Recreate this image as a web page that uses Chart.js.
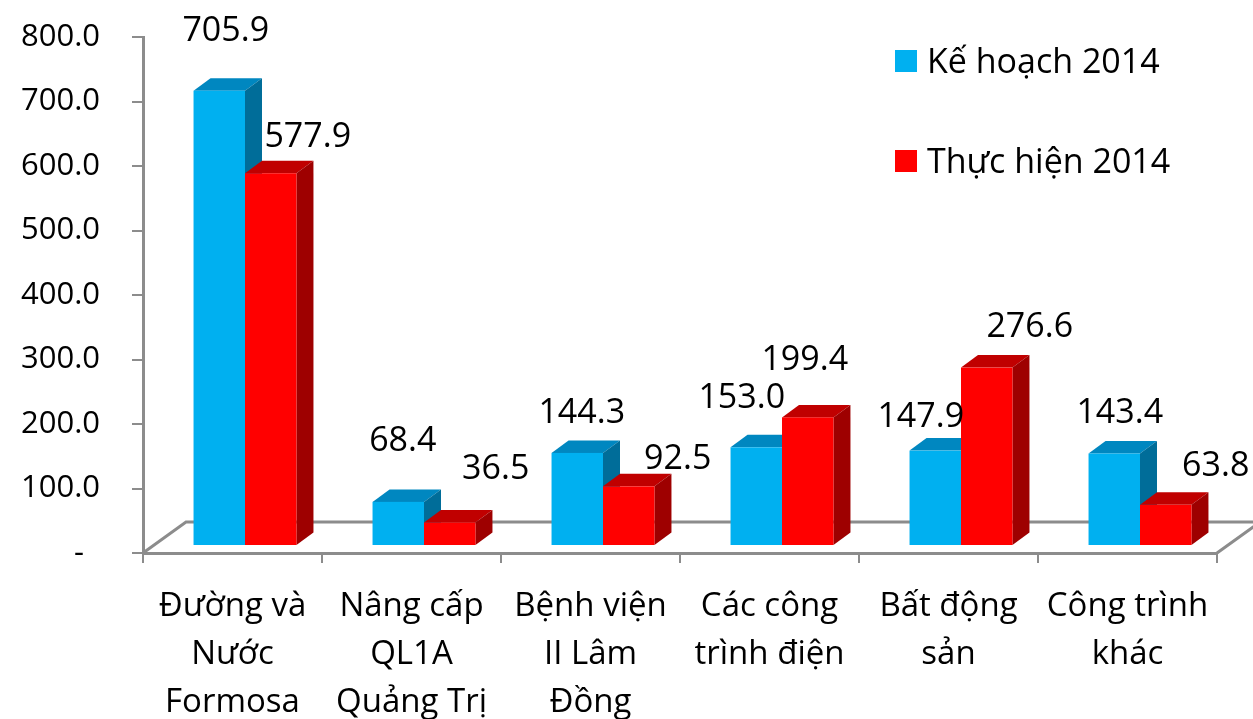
<!DOCTYPE html>
<html><head><meta charset="utf-8">
<script src="https://cdn.jsdelivr.net/npm/chart.js@4/dist/chart.umd.min.js"></script>
<style>html,body{margin:0;padding:0;background:#fff;overflow:hidden}#wrap{width:1253px;height:719px;position:relative}</style>
</head><body><div id="wrap"><canvas id="c"></canvas></div>
<script>
// ---- data ----
const categories = [
  ["Đường và", "Nước", "Formosa"],
  ["Nâng cấp", "QL1A", "Quảng Trị"],
  ["Bệnh viện", "II Lâm", "Đồng"],
  ["Các công", "trình điện"],
  ["Bất động", "sản"],
  ["Công trình", "khác"]
];
const seriesNames = ["Kế hoạch 2014", "Thực hiện 2014"];
const keHoach2014 = [705.9, 68.4, 144.3, 153.0, 147.9, 143.4];
const thucHien2014 = [577.9, 36.5, 92.5, 199.4, 276.6, 63.8];
const yTickValues = [0, 100, 200, 300, 400, 500, 600, 700, 800];
const yTickLabels = ["-  ", "100.0", "200.0", "300.0", "400.0", "500.0", "600.0", "700.0", "800.0"];

// ---- styles ----
const FONT = "'Open Sans', 'Noto Sans', sans-serif";
const GRAY = '#8c8c8c';
const faces = [
  { front: '#00B0F0', top: '#0087C0', side: '#006D99' },
  { front: '#FF0000', top: '#C00000', side: '#9E0000' }
];
const BAR_SHIFT = { x: 12.5, y: -7 };
const BAR_DEPTH = { x: 17, y: -12.5 };
const FLOOR_DEPTH = { x: 43, y: -31 };
const labelNudge = [
  [[6.5, -59], [4.5, -61], [4.5, -40], [-14.5, -49], [-14.5, -33], [5.5, -40.5]],
  [[37, -36], [46, -53], [49, -27], [-3, -57], [43, -40], [50, -39]]
];

const floorPlugin = {
  id: 'floor3d',
  beforeDatasetsDraw(chart) {
    const { ctx, chartArea: a } = chart;
    ctx.save();
    ctx.strokeStyle = GRAY; ctx.lineWidth = 3; ctx.lineCap = 'butt';
    ctx.beginPath();
    ctx.moveTo(a.left, a.bottom);
    ctx.lineTo(a.left + FLOOR_DEPTH.x, a.bottom + FLOOR_DEPTH.y);
    ctx.lineTo(chart.width + 20, a.bottom + FLOOR_DEPTH.y);
    ctx.moveTo(a.right, a.bottom);
    ctx.lineTo(a.right + FLOOR_DEPTH.x, a.bottom + FLOOR_DEPTH.y);
    ctx.stroke();
    ctx.restore();
  }
};

function drawBar(ctx, l, r, t, b, c) {
  const D = BAR_DEPTH;
  ctx.fillStyle = c.top;
  ctx.beginPath();
  ctx.moveTo(l, t); ctx.lineTo(r, t); ctx.lineTo(r + D.x, t + D.y); ctx.lineTo(l + D.x, t + D.y);
  ctx.closePath(); ctx.fill();
  ctx.fillStyle = c.side;
  ctx.beginPath();
  ctx.moveTo(r, t); ctx.lineTo(r + D.x, t + D.y); ctx.lineTo(r + D.x, b + D.y); ctx.lineTo(r, b);
  ctx.closePath(); ctx.fill();
  ctx.fillStyle = c.front;
  ctx.fillRect(l, t, r - l, b - t);
}

const bar3dPlugin = {
  id: 'bar3d',
  beforeDatasetDraw() { return false; },
  afterDatasetsDraw(chart) {
    const ctx = chart.ctx;
    const metas = chart.data.datasets.map((d, i) => chart.getDatasetMeta(i));
    const n = chart.data.labels.length;
    ctx.save();
    for (let j = 0; j < n; j++) {
      metas.forEach((meta, i) => {
        const el = meta.data[j];
        const p = el.getProps(['x', 'y', 'base', 'width'], true);
        const l = p.x - p.width / 2 + BAR_SHIFT.x;
        const r = p.x + p.width / 2 + BAR_SHIFT.x;
        const t = Math.min(p.y, p.base) + BAR_SHIFT.y;
        const b = Math.max(p.y, p.base) + BAR_SHIFT.y;
        drawBar(ctx, l, r, t, b, faces[i]);
      });
    }
    // data labels
    ctx.fillStyle = '#000';
    ctx.font = `34px ${FONT}`;
    ctx.textAlign = 'center';
    ctx.textBaseline = 'middle';
    metas.forEach((meta, i) => {
      const vals = chart.data.datasets[i].data;
      meta.data.forEach((el, j) => {
        const p = el.getProps(['x', 'y'], true);
        const nd = labelNudge[i][j];
        ctx.fillText(vals[j].toFixed(1), p.x + BAR_SHIFT.x + nd[0], p.y + BAR_SHIFT.y + nd[1]);
      });
    });
    ctx.restore();
  }
};

const legendPlugin = {
  id: 'legendBoxes',
  afterDraw(chart) {
    const ctx = chart.ctx;
    ctx.save();
    ctx.font = `34px ${FONT}`;
    ctx.textAlign = 'left';
    ctx.textBaseline = 'middle';
    chart.data.datasets.forEach((ds, i) => {
      const cy = 61 + i * 100;
      ctx.fillStyle = ds.backgroundColor;
      ctx.fillRect(895, cy - 11, 22, 22);
      ctx.fillStyle = '#000';
      ctx.fillText(ds.label, 927, cy + 2);
    });
    ctx.restore();
  }
};

new Chart(document.getElementById('c'), {
  type: 'bar',
  data: {
    labels: categories,
    datasets: [
      { label: seriesNames[0], data: keHoach2014, backgroundColor: faces[0].front },
      { label: seriesNames[1], data: thucHien2014, backgroundColor: faces[1].front }
    ]
  },
  options: {
    responsive: true,
    maintainAspectRatio: false,
    animation: false,
    events: [],
    devicePixelRatio: 1,
    layout: { padding: { top: 37, right: 36, left: 0, bottom: 0 } },
    datasets: { bar: { categoryPercentage: 0.575, barPercentage: 1.0 } },
    plugins: { legend: { display: false }, tooltip: { enabled: false } },
    scales: {
      x: {
        offset: true,
        grid: { offset: true, drawOnChartArea: false, drawTicks: true, tickLength: 10, color: GRAY, lineWidth: 2 },
        border: { display: true, color: GRAY, width: 3 },
        ticks: { color: '#000', font: { family: FONT, size: 33, lineHeight: 1.455 }, padding: 20, maxRotation: 0, autoSkip: false },
        afterFit(s) { s.height = 166; s.paddingLeft = 0; s.paddingRight = 0; }
      },
      y: {
        min: 0, max: 800,
        afterBuildTicks(s) { s.ticks = yTickValues.map(v => ({ value: v })); },
        grid: { drawOnChartArea: false, drawTicks: true, tickLength: 11, color: GRAY, lineWidth: 2 },
        border: { display: true, color: GRAY, width: 3 },
        ticks: {
          color: '#000', font: { family: FONT, size: 31 }, padding: 32,
          callback: (v) => yTickLabels[yTickValues.indexOf(v)]
        },
        afterFit(s) { s.width = 143; s.paddingTop = 0; s.paddingBottom = 0; }
      }
    }
  },
  plugins: [floorPlugin, bar3dPlugin, legendPlugin]
});
</script></body></html>
